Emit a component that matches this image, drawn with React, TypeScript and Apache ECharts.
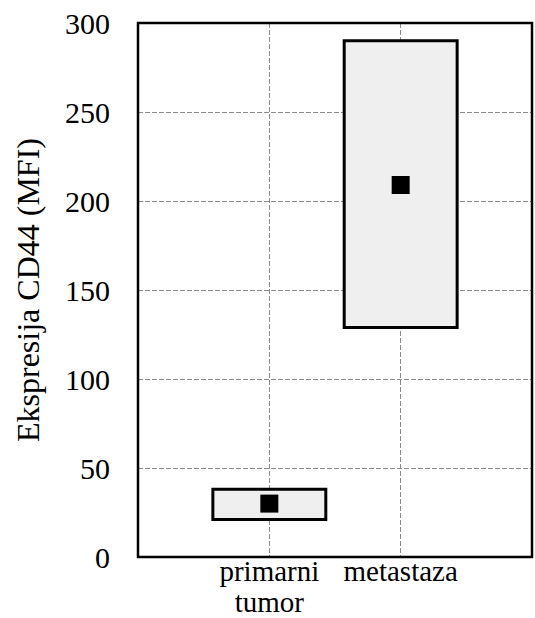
import React, { useEffect, useRef } from "react";
import * as echarts from "echarts";

const categories = ["primarni\ntumor", "metastaza"];
const categoryPositions = [1, 2];
const boxLow = [21, 129];
const boxHigh = [38, 290];
const means = [30, 209];
const yTicks = [0, 50, 100, 150, 200, 250, 300];

const FONT = "Liberation Serif, Times New Roman, serif";

export default function App() {
  const ref = useRef<HTMLDivElement>(null);
  useEffect(() => {
    if (!ref.current) return;
    const chart = echarts.init(ref.current, null, { renderer: "svg" });
    const boxData = categoryPositions.map((x, i) => [x, boxLow[i], boxHigh[i]]);
    const meanData = categoryPositions.map((x, i) => [x, means[i]]);
    chart.setOption({
      animation: false,
      backgroundColor: "#ffffff",
      textStyle: { fontFamily: FONT, color: "#000" },
      grid: {
        left: 138,
        top: 23,
        right: 3,
        bottom: 61,
        outerBoundsMode: "none",
        containLabel: false,
        show: true,
        borderColor: "#000",
        borderWidth: 2.5,
        backgroundColor: "transparent",
        z: 5,
      },
      xAxis: {
        type: "value",
        min: 0,
        max: 3,
        interval: 1,
        axisLine: { show: false },
        axisTick: { show: false },
        splitLine: { show: true, lineStyle: { color: "#8a8a8a", width: 1, type: [5, 2] } },
        axisLabel: {
          margin: -2,
          color: "#000",
          fontFamily: FONT,
          fontSize: 29,
          lineHeight: 31,
          formatter: (v: number) => {
            const idx = categoryPositions.indexOf(v);
            return idx >= 0 ? categories[idx] : "";
          },
        },
      },
      yAxis: {
        type: "value",
        min: yTicks[0],
        max: yTicks[yTicks.length - 1],
        interval: 50,
        name: "Ekspresija CD44 (MFI)",
        nameLocation: "middle",
        nameGap: 94,
        nameTextStyle: { color: "#000", fontFamily: FONT, fontSize: 32 },
        axisLine: { show: false },
        axisTick: { show: false },
        splitLine: { show: true, lineStyle: { color: "#8a8a8a", width: 1, type: [5, 2] } },
        axisLabel: { margin: 28, color: "#000", fontFamily: FONT, fontSize: 30 },
      },
      series: [
        {
          type: "custom",
          data: boxData,
          z: 3,
          renderItem: (params: any, api: any) => {
            const x = api.value(0);
            const lo = api.value(1);
            const hi = api.value(2);
            const p1 = api.coord([x - 0.43, hi]);
            const p2 = api.coord([x + 0.43, lo]);
            return {
              type: "rect",
              shape: { x: p1[0], y: p1[1], width: p2[0] - p1[0], height: p2[1] - p1[1] },
              style: { fill: "#efefef", stroke: "#000", lineWidth: 3 },
            };
          },
        },
        {
          type: "scatter",
          data: meanData,
          symbol: "rect",
          symbolSize: 18,
          itemStyle: { color: "#000", opacity: 1 },
          z: 4,
        },
      ],
    });
    return () => chart.dispose();
  }, []);
  return <div ref={ref} style={{ width: 535, height: 618, position: "absolute", left: 0, top: 0 }} />;
}
